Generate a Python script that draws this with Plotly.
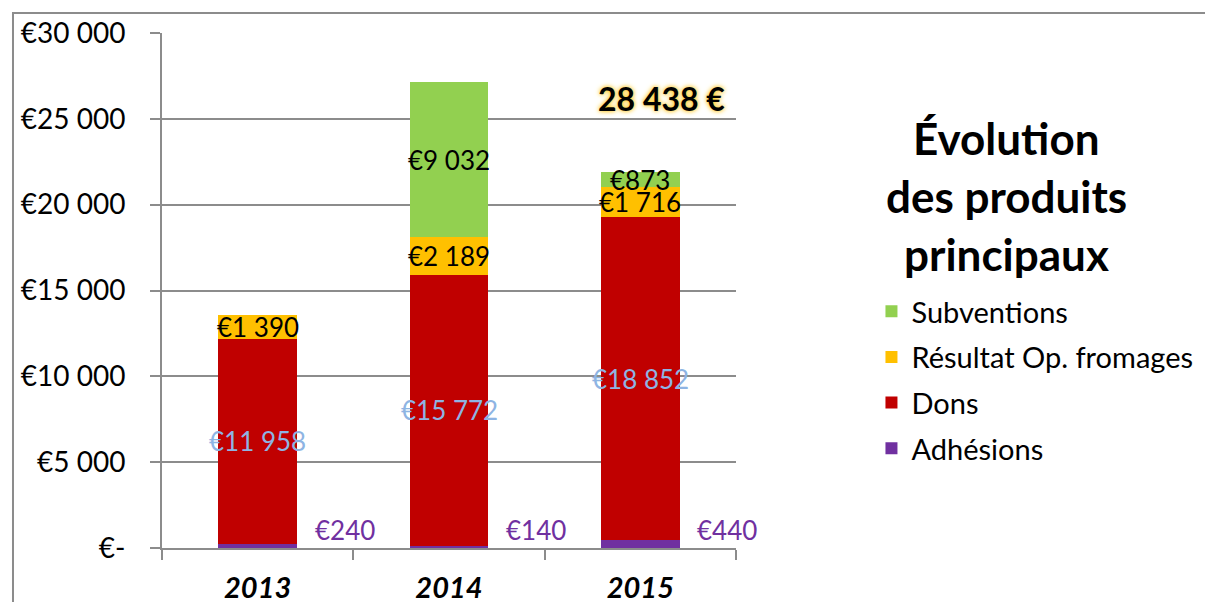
import plotly.graph_objects as go

# ---- data ----
years = ["2013", "2014", "2015"]
adhesions = [240, 140, 440]
dons = [11958, 15772, 18852]
resultat_fromages = [1390, 2189, 1716]
subventions = [0, 9032, 873]
total_2015_label = "28 438 €"
y_tick_values = [0, 5000, 10000, 15000, 20000, 25000, 30000]
y_tick_labels = ["€-", "€5 000", "€10 000", "€15 000", "€20 000", "€25 000", "€30 000"]
title_lines = ["Évolution", "des produits", "principaux"]

FONT = "Lato"
GRID = "#8C8C8C"


def eur(v):
    return "€" + f"{v:,}".replace(",", " ")


series = [
    ("Adhésions", adhesions, "#7030A0", 4),
    ("Dons", dons, "#C00000", 3),
    ("Résultat Op. fromages", resultat_fromages, "#FFC000", 2),
    ("Subventions", subventions, "#92D050", 1),
]

fig = go.Figure()
for i, (name, vals, col, rank) in enumerate(series):
    fig.add_trace(go.Bar(
        x=years, y=vals, name=name, marker=dict(color=col, line=dict(width=0)),
        width=0.41, legendgroup=f"g{i}", legendrank=rank, textposition="none",
    ))

LBL = 26
annotations = []
for j, yr in enumerate(years):
    annotations.append(dict(x=j, y=0, text=eur(adhesions[j]), showarrow=False,
                            xshift=87, yanchor="bottom", yshift=0,
                            font=dict(family=FONT, size=LBL, color="#7030A0")))
    base = adhesions[j]
    annotations.append(dict(x=j, y=base + dons[j] / 2, text=eur(dons[j]), showarrow=False,
                            font=dict(family=FONT, size=LBL, color="#8EB4E3")))
    base += dons[j]
    annotations.append(dict(x=j, y=base + resultat_fromages[j] / 2, text=eur(resultat_fromages[j]),
                            showarrow=False, font=dict(family=FONT, size=LBL, color="#000000")))
    base += resultat_fromages[j]
    if subventions[j] > 0:
        annotations.append(dict(x=j, y=base + subventions[j] / 2, text=eur(subventions[j]),
                                showarrow=False, font=dict(family=FONT, size=LBL, color="#000000")))

annotations.append(dict(x=2, y=26200, text=total_2015_label, showarrow=False, xshift=21,
                        font=dict(family=FONT, size=32, color="#000000", weight="bold",
                                  shadow="0px 0px 4px #FFC000, 0px 0px 6px #FFE699")))

for line, yy in zip(title_lines, [0.796, 0.6836, 0.571]):
    annotations.append(dict(xref="paper", yref="paper", x=1.472, y=yy, text=line, showarrow=False,
                            xanchor="center", yanchor="middle",
                            font=dict(family=FONT, size=44, color="#000000", weight="bold")))

# the page adds an 8px body margin, so the figure is 8px smaller and margins shifted
fig.update_layout(
    width=1205, height=594,
    margin=dict(l=154, r=477, t=25, b=54, autoexpand=False),
    paper_bgcolor="white", plot_bgcolor="white",
    barmode="stack",
    font=dict(family=FONT, size=24, color="#000000"),
    annotations=annotations,
    showlegend=True,
    legend=dict(x=1.236, y=0.509, xanchor="left", yanchor="top", traceorder="grouped",
                tracegroupgap=5, font=dict(family=FONT, size=29, color="#000000"),
                bgcolor="rgba(0,0,0,0)", itemclick=False),
    shapes=[dict(type="rect", xref="paper", yref="paper", x0=-0.2596, x1=1.84, y0=-0.12, y1=1.0388,
                 line=dict(color="#8C8C8C", width=2), fillcolor="rgba(0,0,0,0)", layer="below")],
)

fig.update_xaxes(type="category", range=[-0.5, 2.5], showline=True, linecolor=GRID, linewidth=2,
                 ticks="outside", tickson="boundaries", ticklen=10, tickcolor=GRID, tickwidth=2,
                 tickfont=dict(family=FONT, size=29, color="#000000", weight="bold", style="italic"),
                 ticklabelstandoff=13, showgrid=False, automargin=False, fixedrange=True)
fig.update_yaxes(range=[0, 30000], tickvals=y_tick_values, ticktext=y_tick_labels,
                 showgrid=True, gridcolor=GRID, gridwidth=2, showline=True, linecolor=GRID, linewidth=2,
                 ticks="outside", ticklen=10, tickcolor=GRID, tickwidth=2,
                 tickfont=dict(family=FONT, size=28, color="#000000"),
                 ticklabelstandoff=19, zeroline=False, automargin=False, fixedrange=True)

fig.write_html("out.html")
